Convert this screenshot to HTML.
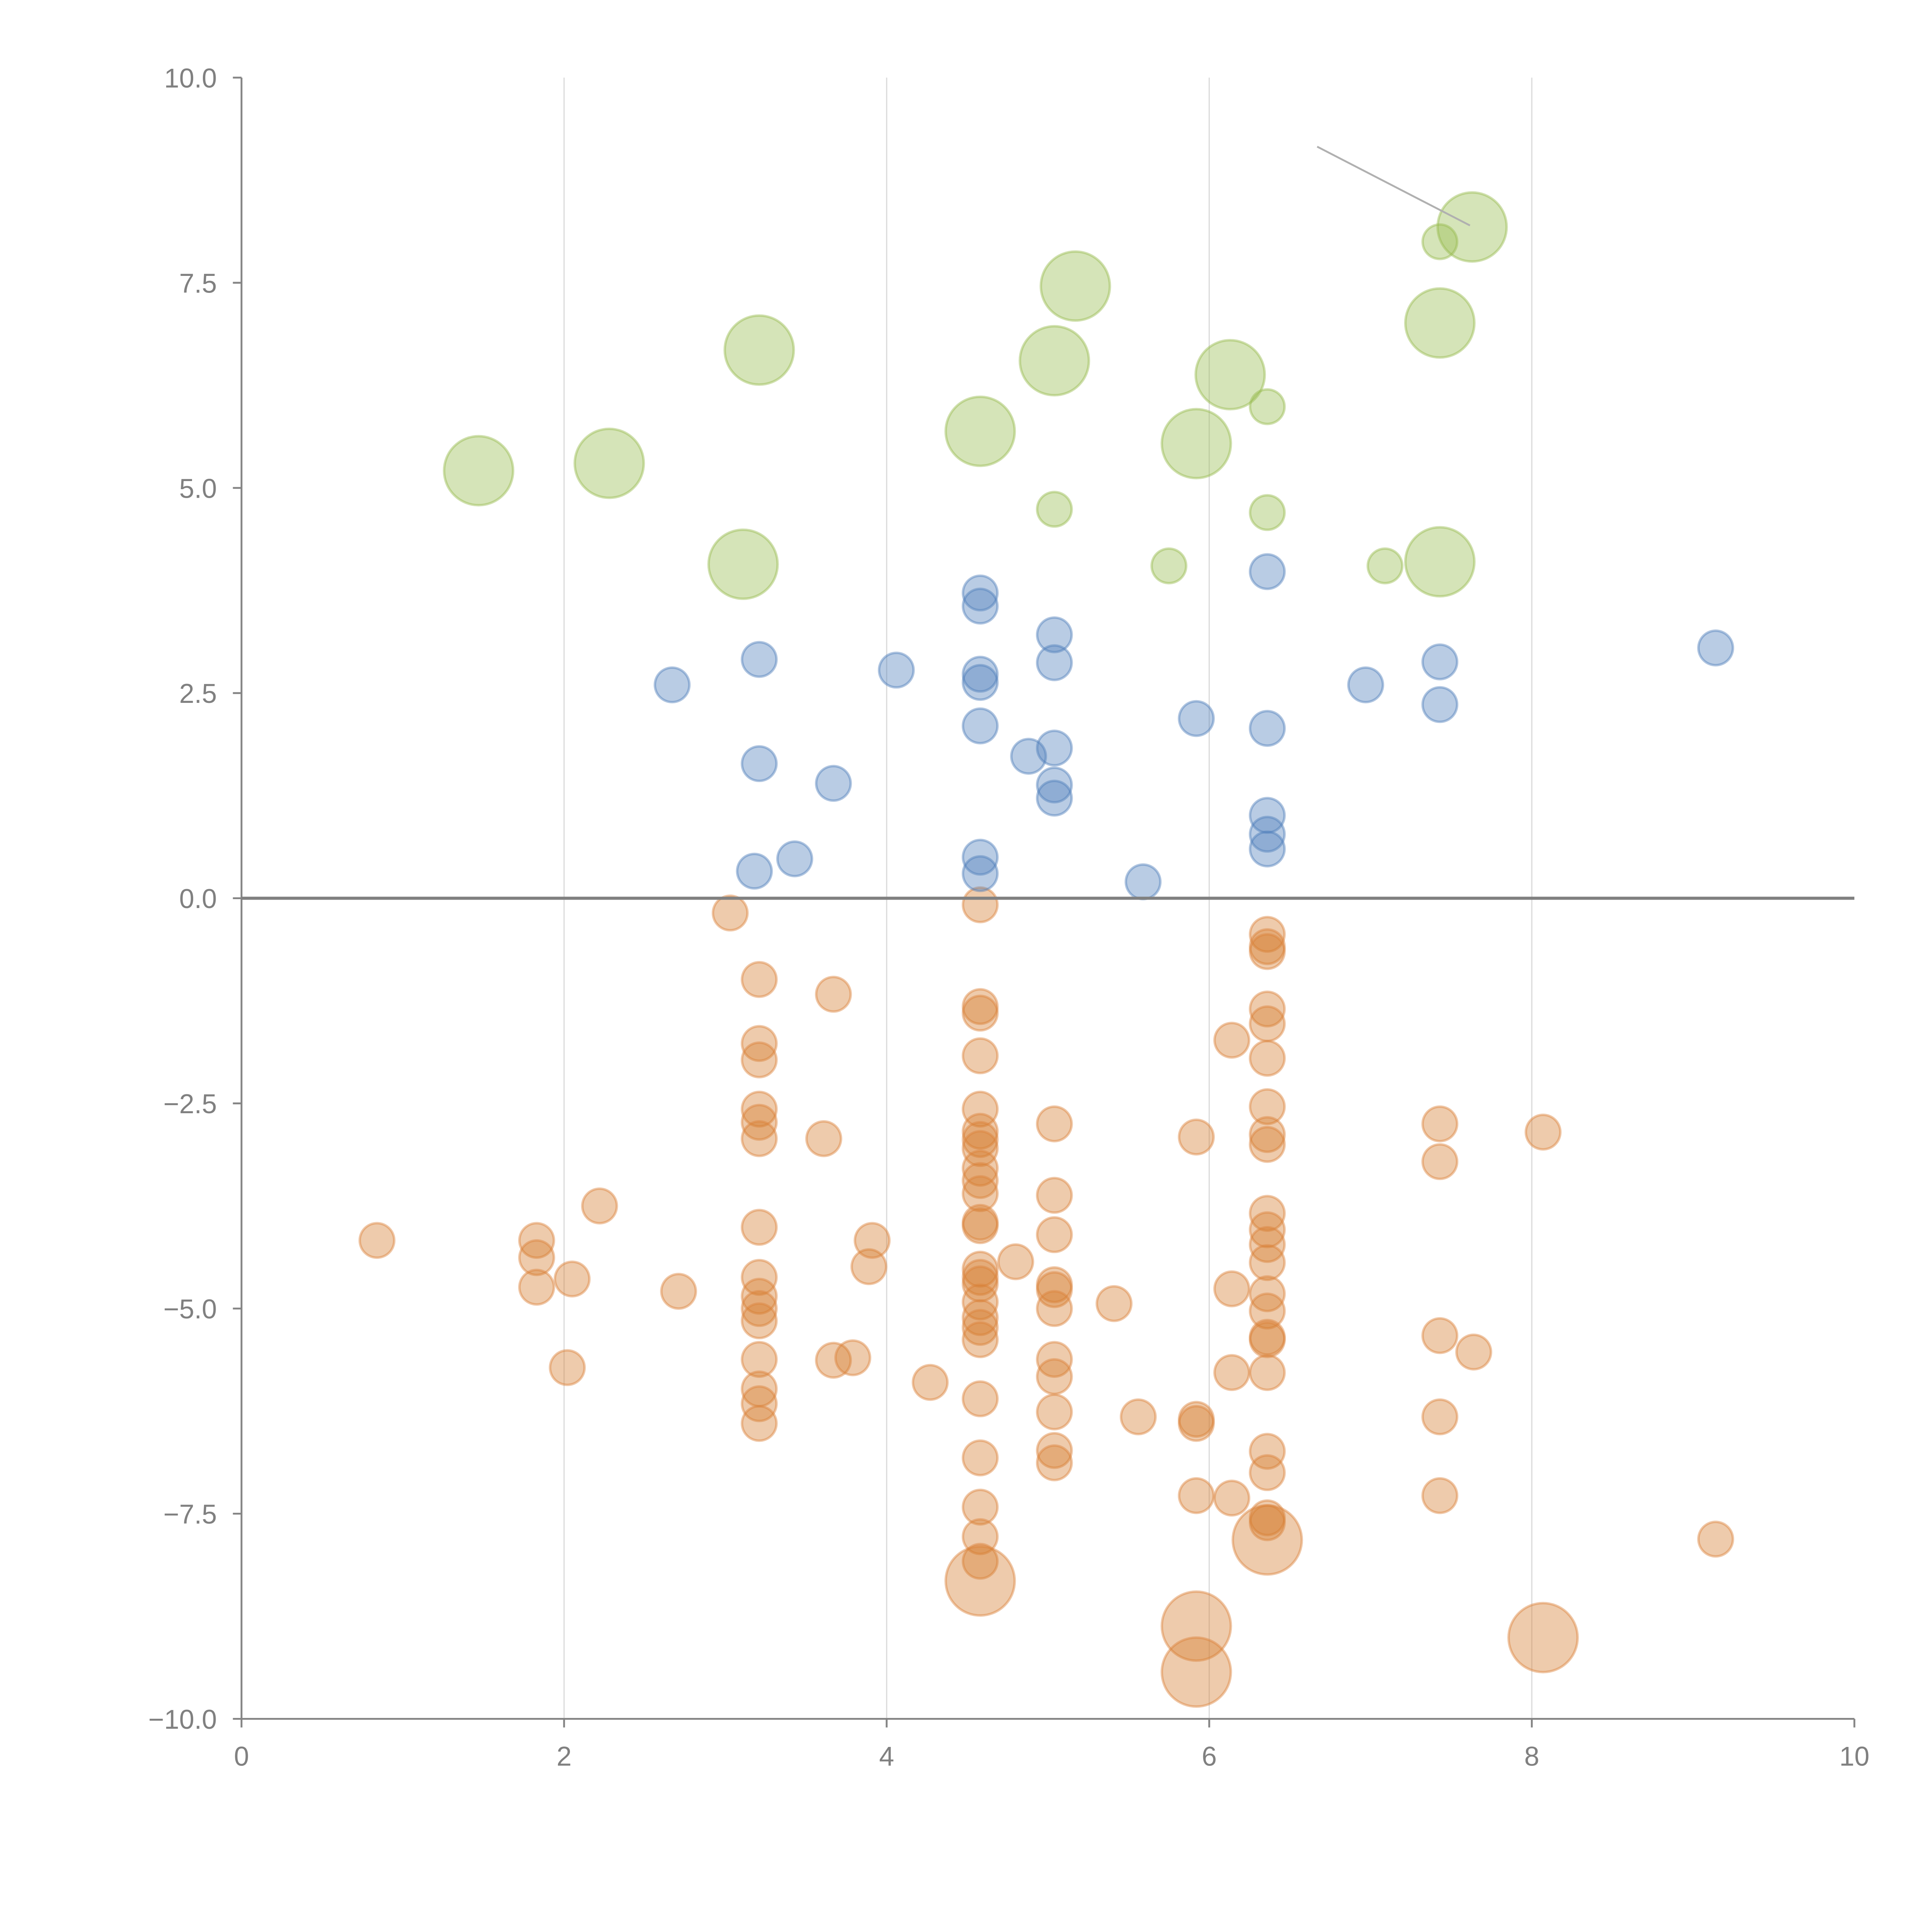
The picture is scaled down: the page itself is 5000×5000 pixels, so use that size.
<!DOCTYPE html>
<html><head><meta charset="utf-8"><style>
html,body{margin:0;padding:0;background:#fff;}
svg{display:block;}
text{font-family:"Liberation Sans",Arial,sans-serif;fill:#808080;}
</style></head><body>
<svg id="chart" width="5000" height="5000" viewBox="0 0 1568 1568" xmlns="http://www.w3.org/2000/svg">
<g id="grid"></g>
<g id="marks"></g>
<g id="axes"></g>
<line x1="1069" y1="119" x2="1193" y2="183" stroke="#b0b0b0" stroke-width="1.5"/>
</svg>
<script>
const xTicks=[0,2,4,6,8,10];
const yTicks=[10,7.5,5,2.5,0,-2.5,-5,-7.5,-10];
const yTickLabels=["10.0","7.5","5.0","2.5","0.0","\u22122.5","\u22125.0","\u22127.5","\u221210.0"];
const greenX=[1.47,2.28,3.21,3.11,4.58,5.04,5.17,5.92,6.13,7.43,7.43,7.63,7.43,6.36,5.04,6.36,5.75,7.09];
const greenY=[5.21,5.30,6.68,4.07,5.69,6.55,7.46,5.54,6.38,7.01,4.10,8.18,8.00,5.99,4.74,4.70,4.05,4.05];
const greenS=[2,2,2,2,2,2,2,2,2,2,2,2,1,1,1,1,1,1];
const blueX=[2.67,3.21,3.21,3.18,3.43,3.67,4.06,4.58,4.58,4.58,4.58,4.58,4.58,4.58,4.88,5.04,5.04,5.04,5.04,5.04,5.59,5.92,6.36,6.36,6.36,6.36,6.36,6.97,7.43,7.43,9.14];
const blueY=[2.60,2.91,1.64,0.33,0.48,1.40,2.78,3.72,3.56,2.73,2.63,2.10,0.50,0.30,1.73,3.21,2.87,1.83,1.38,1.22,0.20,2.19,3.98,2.07,1.01,0.78,0.60,2.60,2.88,2.36,3.05];
const orangeX=[0.84,1.83,1.83,1.83,2.05,2.02,2.22,2.71,3.03,
3.21,3.21,3.21,3.21,3.21,3.21,3.21,3.21,3.21,3.21,3.21,3.21,3.21,3.21,3.21,
3.61,3.67,3.67,3.79,3.89,3.91,4.27,
4.58,4.58,4.58,4.58,4.58,4.58,4.58,4.58,4.58,4.58,4.58,4.58,4.58,4.58,4.58,4.58,4.58,4.58,4.58,4.58,4.58,4.58,4.58,4.58,4.58,
4.80,5.04,5.04,5.04,5.04,5.04,5.04,5.04,5.04,5.04,5.04,5.04,
5.41,5.56,5.92,5.92,5.92,5.92,6.14,6.14,6.14,6.14,
6.36,6.36,6.36,6.36,6.36,6.36,6.36,6.36,6.36,6.36,6.36,6.36,6.36,6.36,6.36,6.36,6.36,6.36,6.36,6.36,6.36,6.36,
7.43,7.43,7.43,7.43,7.43,7.64,8.07,9.14,
4.58,5.92,5.92,6.36,8.07];
const orangeY=[-4.17,-4.17,-4.38,-4.74,-4.64,-5.72,-3.75,-4.79,-0.18,
-0.99,-1.77,-1.97,-2.57,-2.73,-2.93,-4.01,-4.62,-4.85,-5.00,-5.15,-5.62,-5.98,-6.16,-6.40,
-2.93,-1.17,-5.63,-5.60,-4.49,-4.17,-5.90,
-0.08,-1.32,-1.40,-1.92,-2.57,-2.84,-2.94,-3.05,-3.29,-3.44,-3.60,-3.95,-3.99,-4.52,-4.62,-4.70,-4.92,-5.11,-5.23,-5.38,-6.10,-6.82,-7.42,-7.78,-8.08,
-4.43,-2.75,-3.62,-4.10,-4.71,-4.77,-5.00,-5.62,-5.83,-6.26,-6.73,-6.88,
-4.94,-6.32,-2.91,-6.35,-6.40,-7.28,-1.73,-4.76,-5.78,-7.31,
-0.44,-0.59,-0.65,-1.35,-1.53,-1.95,-2.54,-2.88,-3.00,-3.84,-4.04,-4.22,-4.44,-4.82,-5.03,-5.35,-5.38,-5.78,-6.74,-7.00,-7.55,-7.61,
-2.75,-3.21,-5.33,-6.32,-7.28,-5.53,-2.85,-7.81,
-8.32,-8.87,-9.43,-7.82,-9.01];
const orangeS=orangeX.map((_,i)=>i>=orangeX.length-5?2:1);

const NS="http://www.w3.org/2000/svg";
const X0=196,X1=1505,YT=63,YB=1395;
function sx(v){return X0+(v-0)/(10-0)*(X1-X0);}
function sy(v){return YB-(v+10)/20*(YB-YT);}
function el(tag,attrs,parent){const e=document.createElementNS(NS,tag);for(const k in attrs)e.setAttribute(k,attrs[k]);parent.appendChild(e);return e;}
const grid=document.getElementById('grid'),marks=document.getElementById('marks'),axes=document.getElementById('axes');
xTicks.forEach(t=>{if(t>0&&t<10){const g=el('line',{x1:sx(t),x2:sx(t),y1:YT,y2:YB,stroke:'#dcdcdc','stroke-width':1},grid);

}});
function series(xs,ys,ss,fill,stroke,name){
  xs.forEach((x,i)=>{const c=el('circle',{cx:sx(x),cy:sy(ys[i]),r:ss[i]==2?28:14,fill:fill,'fill-opacity':0.4,stroke:stroke,'stroke-opacity':0.45,'stroke-width':2},marks);
  
  });
}
series(orangeX,orangeY,orangeS,'rgb(212,125,47)','rgb(220,130,60)','orange-bubble');
series(blueX,blueY,blueX.map(()=>1),'rgb(80,127,187)','rgb(80,127,187)','blue-bubble');
series(greenX,greenY,greenS,'rgb(150,187,77)','rgb(150,187,77)','green-bubble');
let a=el('line',{x1:X0,x2:X0,y1:YT,y2:YB,stroke:'#858585','stroke-width':1.5},axes);


a=el('line',{x1:X0,x2:X1,y1:YB,y2:YB,stroke:'#858585','stroke-width':1.5},axes);


a=el('line',{x1:X0,x2:X1,y1:sy(0),y2:sy(0),stroke:'#808080','stroke-width':2.5},axes);


yTicks.forEach((t,i)=>{
  const tk=el('line',{x1:X0-7,x2:X0,y1:sy(t),y2:sy(t),stroke:'#858585','stroke-width':1.5},axes);
  
  
  const tx=el('text',{x:X0-20,y:sy(t)+8,'text-anchor':'end','font-size':22},axes);
  tx.textContent=yTickLabels[i];
  
  
});
xTicks.forEach(t=>{
  const tk=el('line',{x1:sx(t),x2:sx(t),y1:YB,y2:YB+7,stroke:'#858585','stroke-width':1.5},axes);
  
  
  const tx=el('text',{x:sx(t),y:YB+38,'text-anchor':'middle','font-size':22},axes);
  tx.textContent=String(t);
  
  
});
</script>
</body></html>
